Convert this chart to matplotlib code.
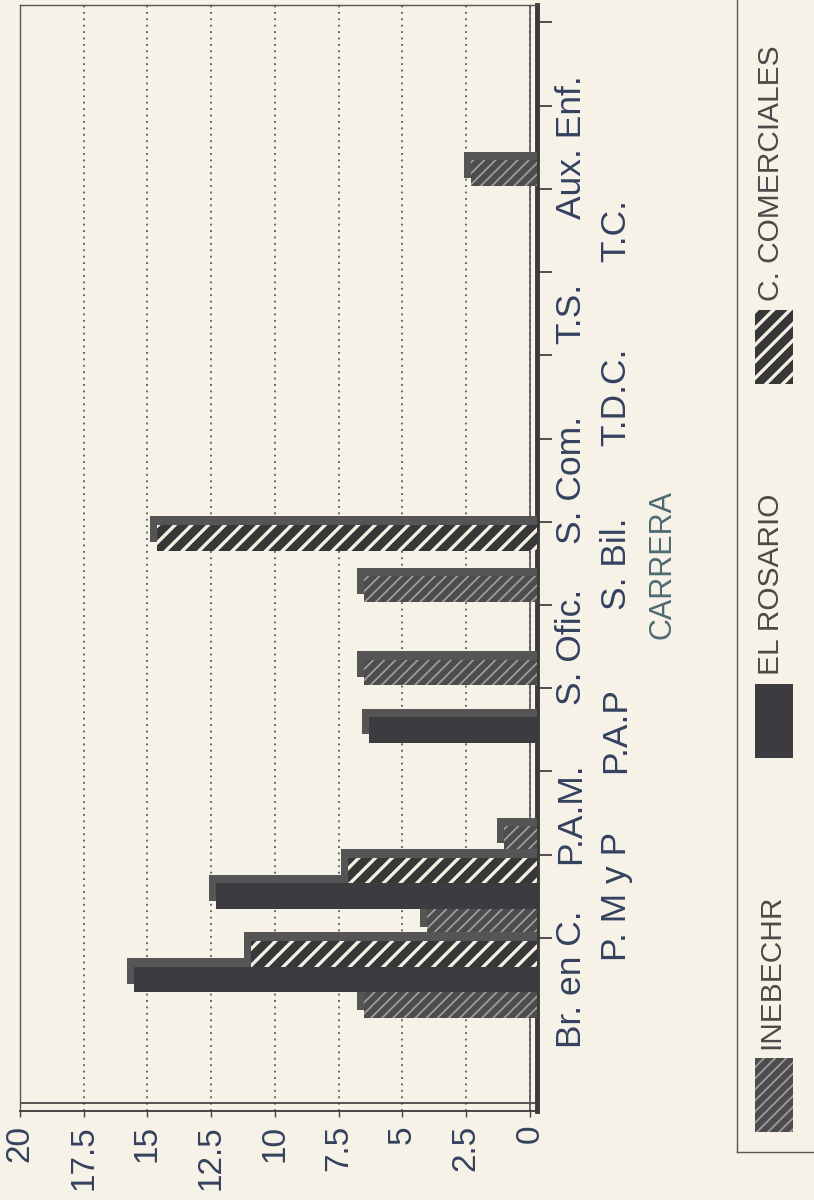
import matplotlib
matplotlib.use("Agg")
import numpy as np
import matplotlib.pyplot as plt
from matplotlib.patches import Rectangle
from matplotlib.transforms import blended_transform_factory

# Data (percent per career)
categories = ["Br. en C.", "P. M y P", "P.A.M.", "P.A.P", "S. Ofic.", "S. Bil.",
              "S. Com.", "T.D.C.", "T.S.", "T.C.", "Aux. Enf."]
series_names = ["INEBECHR", "EL ROSARIO", "C. COMERCIALES"]
inebechr = [6.8, 4.3, 1.3, 0, 6.8, 6.8, 0, 0, 0, 0, 2.6]
el_rosario = [15.8, 12.6, 0, 6.6, 0, 0, 0, 0, 0, 0, 0]
comerciales = [11.2, 7.4, 0, 0, 0, 14.9, 0, 0, 0, 0, 0]
value_ticks = [0, 2.5, 5, 7.5, 10, 12.5, 15, 17.5, 20]
axis_title = "CARRERA"

PAPER = "#f6f2e8"
INK = "#34415e"
FONT = "Liberation Sans"

# look of each series: face, hatch, hatch colour, hatch width
styles = [
    dict(face="#4c4c4c", hatch="///", hcolor="#9c9c9c", hlw=1.3),
    dict(face="#3c3c40", hatch=None, hcolor="#3c3c40", hlw=1.0),
    dict(face="#373737", hatch="//", hcolor="#f4f0e6", hlw=2.4),
]
depth_color = "#555555"

plt.rcParams["font.family"] = [FONT, "DejaVu Sans"]
plt.rcParams["hatch.linewidth"] = 1.6

W, H = 814, 1200
fig = plt.figure(figsize=(W / 100, H / 100), dpi=100, facecolor=PAPER)

# plot box in pixels: x 20..537, y 5..1111 (chart is printed sideways)
ax = fig.add_axes([20 / W, (H - 1111) / H, 517 / W, 1106 / H])
ax.set_facecolor(PAPER)

dx = 0.275          # depth of the 3D bars along the value axis
dy = 0.10           # depth across the category axis
bar_h = 0.31
offsets = [-0.31, 0.0, 0.31]
pos = np.arange(len(categories))

ax.set_xlim(20, -dx)
ax.set_ylim(-1.58, 11.71)


def hatch_width(patch, lw):
    if hasattr(patch, "set_hatch_linewidth"):
        patch.set_hatch_linewidth(lw)


for k, (vals, st) in enumerate(zip([inebechr, el_rosario, comerciales], styles)):
    vals = np.array(vals, dtype=float)
    y = pos + offsets[k]
    back = np.where(vals > 0, vals + dx, 0)
    ax.barh(y + dy, back, left=-dx, height=bar_h, color=depth_color,
            linewidth=0, zorder=3 + 2 * k)
    bars = ax.barh(y, vals, left=-dx, height=bar_h, color=st["face"],
                   edgecolor=st["hcolor"], hatch=st["hatch"], linewidth=0,
                   zorder=4 + 2 * k)
    for b in bars:
        hatch_width(b, st["hlw"])

# value axis (bottom of the printed page)
ax.set_xticks(value_ticks)
ax.set_xticklabels([f"{v:g}" for v in value_ticks], rotation=90,
                   fontsize=24, color=INK)
ax.tick_params(axis="x", length=4, width=1, pad=6, colors="#444444",
               labelcolor=INK)
ax.grid(True, axis="x", linestyle=(0, (1.2, 3)), color="#3f3f3f",
        linewidth=1.1, zorder=1)

# category axis: tick marks between groups, on the right
ax.yaxis.tick_right()
ax.set_yticks(np.arange(len(categories) + 1) + 0.5)
ax.set_yticklabels([])
ax.tick_params(axis="y", length=11, width=1.2, direction="out", colors="#333333")

tr = blended_transform_factory(ax.transAxes, ax.transData)
row_x = [1.034, 1.121]
for i, name in enumerate(categories):
    ax.text(row_x[i % 2], pos[i], name, transform=tr, rotation=90,
            ha="left", va="center", fontsize=25.5, color=INK)

ax.text(1.213, 0.494, axis_title, transform=ax.transAxes, rotation=90,
        ha="left", va="center", fontsize=22, color="#4f6b72")

# frame
for side in ["left", "top"]:
    ax.spines[side].set_color("#555555")
    ax.spines[side].set_linewidth(1.0)
ax.spines["left"].set_linestyle((0, (2, 1)))
ax.spines["right"].set_linewidth(3.5)
ax.spines["right"].set_color("#3a3a3a")
ax.spines["bottom"].set_linewidth(1.3)
ax.spines["bottom"].set_color("#3a3a3a")
ax.axhline(ax.get_ylim()[0] + dy, color="#3a3a3a", linewidth=1.2, zorder=2)
ax.axvline(0, color="#555555", linewidth=1.2, zorder=2)

# legend, drawn sideways in its own box
lax = fig.add_axes([737 / W, (H - 1152) / H, 77 / W, 1152 / H])
lax.set_xlim(0, 77)
lax.set_ylim(1152, 0)
lax.set_facecolor("none")
lax.set_xticks([])
lax.set_yticks([])
for side in ["top", "right"]:
    lax.spines[side].set_visible(False)
for side in ["left", "bottom"]:
    lax.spines[side].set_color("#555555")
    lax.spines[side].set_linewidth(1.0)

swatch_h = 74
for k, (name, st) in enumerate(zip(series_names, styles)):
    cy = 1095 - k * 374
    sw = Rectangle((18, cy - swatch_h / 2), 38, swatch_h, facecolor=st["face"],
                   edgecolor=st["hcolor"], hatch=st["hatch"], linewidth=0)
    hatch_width(sw, st["hlw"])
    lax.add_patch(sw)
    lax.text(34, cy - swatch_h / 2 - 9, name, rotation=90, ha="center",
             va="bottom", fontsize=21.5, color="#4a4a4a")

fig.savefig("out.png", dpi=100, facecolor=PAPER)
